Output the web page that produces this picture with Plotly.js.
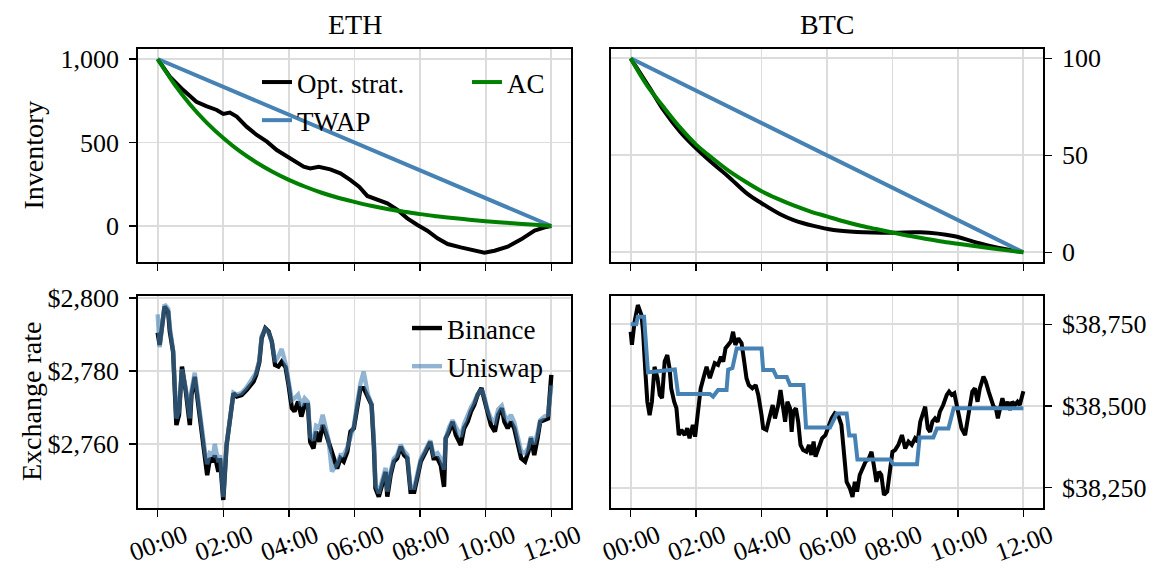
<!DOCTYPE html>
<html>
<head>
<meta charset="utf-8">
<script src="https://cdn.plot.ly/plotly-3.0.1.min.js"></script>
<style>html,body{margin:0;padding:0;background:#fff;}#chart{width:1159px;height:572px;}</style>
</head>
<body>
<div id="chart"></div>
<script>
// ---------- DATA ----------
const panelTitles = ['ETH', 'BTC'];
const hourTickVals = [0, 2, 4, 6, 8, 10, 12];
const hourTickLabels = ['00:00', '02:00', '04:00', '06:00', '08:00', '10:00', '12:00'];

// Inventory, ETH
const ethOptT = [0, 0.37, 0.78, 1.18, 1.48, 1.8, 2.0, 2.2, 2.41, 2.71, 3.02, 3.33, 3.63, 3.94, 4.25, 4.45, 4.65, 4.91, 5.26, 5.57, 5.88, 6.14, 6.39, 6.69, 7.0, 7.31, 7.61, 7.92, 8.22, 8.53, 8.84, 9.24, 9.65, 9.96, 10.27, 10.67, 11.08, 11.49, 11.8, 12.0];
const ethOptV = [1000, 894, 814, 744, 718, 695, 671, 679, 655, 595, 545, 505, 455, 415, 375, 355, 345, 355, 339, 315, 275, 235, 180, 156, 136, 96, 46, 6, -28, -74, -108, -128, -148, -160, -148, -124, -80, -28, -8, 0];
const ethTwapT = [0, 12];
const ethTwapV = [1000, 0];
const ethAcT = [0, 0.5, 1, 1.5, 2, 2.5, 3, 3.5, 4, 4.5, 5, 5.5, 6, 6.5, 7, 7.5, 8, 8.5, 9, 9.5, 10, 10.5, 11, 11.5, 12];
const ethAcV = [1000, 852, 725, 618, 527, 448, 382, 325, 276, 235, 199, 169, 144, 121, 102, 86, 71, 59, 48, 38, 29, 21, 14, 7, 0];

// Inventory, BTC
const btcOptT = [0, 0.59, 1.0, 1.51, 2.0, 2.53, 2.99, 3.55, 4.0, 4.57, 4.98, 5.59, 6.2, 6.91, 8.0, 8.84, 9.86, 10.47, 11.08, 12.0];
const btcOptV = [100, 84.5, 73.4, 62.2, 53.6, 45.5, 39, 30.4, 25.3, 19.6, 16.6, 13.6, 11.5, 10.5, 10.1, 10.3, 8.4, 5.5, 2.9, 0];
const btcTwapT = [0, 12];
const btcTwapV = [100, 0];
const btcAcT = [0, 0.5, 1, 1.5, 2, 2.5, 3, 3.5, 4, 4.5, 5, 5.5, 6, 6.5, 7, 7.5, 8, 8.5, 9, 9.5, 10, 10.5, 11, 11.5, 12];
const btcAcV = [100, 86, 75, 64.5, 55.5, 48.5, 42, 36.5, 31.5, 27.5, 24, 21, 18.5, 16, 13.8, 12, 10.2, 8.5, 7, 5.6, 4.4, 3.2, 2.1, 1, 0];

// Exchange rate, ETH
const ethRateT = [0, 0.06, 0.21, 0.32, 0.37, 0.47, 0.57, 0.65, 0.74, 0.86, 0.98, 1.03, 1.13, 1.23, 1.34, 1.44, 1.51, 1.59, 1.69, 1.74, 1.85, 1.9, 2.0, 2.1, 2.2, 2.31, 2.41, 2.56, 2.71, 2.82, 2.92, 3.0, 3.1, 3.17, 3.28, 3.38, 3.48, 3.58, 3.68, 3.78, 3.9, 3.99, 4.09, 4.17, 4.28, 4.38, 4.48, 4.58, 4.65, 4.75, 4.83, 4.93, 5.03, 5.11, 5.21, 5.31, 5.47, 5.57, 5.67, 5.78, 5.88, 5.98, 6.08, 6.18, 6.28, 6.41, 6.52, 6.59, 6.64, 6.74, 6.84, 6.95, 7.0, 7.1, 7.2, 7.3, 7.41, 7.51, 7.61, 7.71, 7.82, 7.92, 8.02, 8.17, 8.31, 8.41, 8.53, 8.63, 8.73, 8.78, 8.88, 8.99, 9.09, 9.24, 9.34, 9.45, 9.55, 9.65, 9.75, 9.87, 9.97, 10.05, 10.16, 10.28, 10.38, 10.49, 10.57, 10.67, 10.77, 10.87, 10.98, 11.08, 11.2, 11.3, 11.38, 11.48, 11.58, 11.66, 11.79, 11.9, 12.0];
const ethBinance = [2790.5, 2787.1, 2797.6, 2796.2, 2790.8, 2785.3, 2765.2, 2768.0, 2781.2, 2774.3, 2765.2, 2773.4, 2778.4, 2770.7, 2762.5, 2756.1, 2751.5, 2756.1, 2755.2, 2756.9, 2752.4, 2756.1, 2744.7, 2759.7, 2766.1, 2773.9, 2773.0, 2773.4, 2774.8, 2776.2, 2777.1, 2778.9, 2782.5, 2789.0, 2791.7, 2790.8, 2788.0, 2781.6, 2781.2, 2782.5, 2781.0, 2776.2, 2769.8, 2768.9, 2771.6, 2767.5, 2770.7, 2770.7, 2760.6, 2758.8, 2763.4, 2760.6, 2765.2, 2763.4, 2760.6, 2757.0, 2753.3, 2756.1, 2755.2, 2757.9, 2763.4, 2764.3, 2770.7, 2775.3, 2775.3, 2772.5, 2770.7, 2759.7, 2747.9, 2745.6, 2748.8, 2752.4, 2745.6, 2751.5, 2755.2, 2756.1, 2759.3, 2757.0, 2756.1, 2746.9, 2746.9, 2751.5, 2755.2, 2757.9, 2760.6, 2756.1, 2756.1, 2754.2, 2748.3, 2761.6, 2763.4, 2766.1, 2762.5, 2759.7, 2764.3, 2766.1, 2768.9, 2770.7, 2773.4, 2775.3, 2771.6, 2768.0, 2765.2, 2763.4, 2768.0, 2769.8, 2766.1, 2764.3, 2766.1, 2764.3, 2760.6, 2756.1, 2755.2, 2757.9, 2761.6, 2757.0, 2761.6, 2766.1, 2766.6, 2767.0, 2778.9];
const ethUniswap = [2795.5, 2786.5, 2798.2, 2797.0, 2792.0, 2785.5, 2767.0, 2769.0, 2780.5, 2775.0, 2767.0, 2774.5, 2779.5, 2772.0, 2763.5, 2758.0, 2754.5, 2757.5, 2757.0, 2760.0, 2755.0, 2757.0, 2745.5, 2760.0, 2766.5, 2774.0, 2773.5, 2774.0, 2775.5, 2777.0, 2778.0, 2779.5, 2783.0, 2789.5, 2791.5, 2790.5, 2788.0, 2782.5, 2784.0, 2786.0, 2782.0, 2777.5, 2772.0, 2772.5, 2773.5, 2770.5, 2772.5, 2771.5, 2762.0, 2761.0, 2765.0, 2764.5, 2768.0, 2765.0, 2761.0, 2752.5, 2754.5, 2757.0, 2757.0, 2759.0, 2762.0, 2765.0, 2771.0, 2776.5, 2779.8, 2773.5, 2771.0, 2761.0, 2749.0, 2746.5, 2750.0, 2753.5, 2747.0, 2752.5, 2756.0, 2757.0, 2759.8, 2758.0, 2757.0, 2748.0, 2748.0, 2752.5, 2756.0, 2758.5, 2761.0, 2757.0, 2757.5, 2756.0, 2753.0, 2761.5, 2764.5, 2766.5, 2764.5, 2762.0, 2765.5, 2768.0, 2770.0, 2771.5, 2773.5, 2775.0, 2772.5, 2769.5, 2767.0, 2766.0, 2769.5, 2770.5, 2768.0, 2766.5, 2768.0, 2766.0, 2762.0, 2758.0, 2757.5, 2759.0, 2762.0, 2760.0, 2763.0, 2766.5, 2767.5, 2768.0, 2776.0];

// Exchange rate, BTC
const btcBinanceT = [0, 0.04, 0.12, 0.22, 0.33, 0.38, 0.45, 0.51, 0.58, 0.65, 0.73, 0.82, 0.89, 0.96, 1.04, 1.12, 1.19, 1.24, 1.33, 1.4, 1.47, 1.55, 1.65, 1.73, 1.8, 1.9, 1.97, 2.06, 2.14, 2.25, 2.32, 2.42, 2.49, 2.57, 2.67, 2.76, 2.83, 2.9, 2.98, 3.06, 3.13, 3.2, 3.29, 3.39, 3.47, 3.54, 3.61, 3.72, 3.82, 3.9, 4.0, 4.05, 4.15, 4.26, 4.34, 4.41, 4.51, 4.58, 4.66, 4.72, 4.79, 4.87, 4.92, 4.97, 5.05, 5.12, 5.19, 5.27, 5.37, 5.45, 5.52, 5.59, 5.65, 5.75, 5.85, 5.95, 6.02, 6.14, 6.24, 6.34, 6.44, 6.51, 6.6, 6.7, 6.78, 6.85, 6.92, 7.0, 7.1, 7.18, 7.28, 7.36, 7.43, 7.51, 7.59, 7.66, 7.74, 7.84, 7.92, 8.0, 8.08, 8.18, 8.29, 8.39, 8.49, 8.59, 8.69, 8.77, 8.85, 8.92, 9.0, 9.08, 9.15, 9.22, 9.3, 9.38, 9.45, 9.55, 9.66, 9.73, 9.81, 9.89, 9.96, 10.03, 10.11, 10.22, 10.3, 10.37, 10.44, 10.52, 10.6, 10.67, 10.78, 10.85, 10.94, 11.02, 11.09, 11.16, 11.22, 11.29, 11.36, 11.44, 11.52, 11.59, 11.66, 11.74, 11.82, 11.89, 11.97, 12.0];
const btcBinance = [38727, 38687, 38758, 38809, 38778, 38727, 38605, 38513, 38472, 38513, 38620, 38585, 38534, 38524, 38636, 38656, 38615, 38554, 38513, 38493, 38411, 38427, 38411, 38432, 38401, 38442, 38406, 38493, 38554, 38595, 38620, 38585, 38610, 38631, 38626, 38651, 38636, 38677, 38687, 38697, 38727, 38687, 38707, 38692, 38636, 38585, 38564, 38554, 38564, 38534, 38472, 38432, 38427, 38472, 38503, 38462, 38503, 38549, 38503, 38452, 38513, 38493, 38421, 38483, 38493, 38452, 38381, 38365, 38360, 38381, 38350, 38391, 38345, 38370, 38401, 38411, 38432, 38462, 38478, 38472, 38442, 38360, 38268, 38248, 38222, 38268, 38238, 38289, 38309, 38330, 38340, 38360, 38319, 38268, 38299, 38289, 38228, 38238, 38299, 38360, 38365, 38381, 38411, 38370, 38391, 38381, 38401, 38391, 38452, 38472, 38498, 38432, 38421, 38452, 38462, 38452, 38483, 38503, 38534, 38544, 38534, 38539, 38503, 38472, 38432, 38411, 38452, 38503, 38544, 38554, 38513, 38554, 38590, 38575, 38544, 38513, 38498, 38493, 38462, 38493, 38524, 38493, 38513, 38488, 38513, 38503, 38513, 38503, 38539, 38545];
const btcUniswapT = [0, 0.17, 0.22, 0.41, 0.53, 1.35, 1.45, 2.42, 2.52, 2.67, 2.93, 2.98, 3.11, 3.24, 4.0, 4.05, 4.36, 4.46, 4.77, 4.87, 5.28, 5.36, 6.09, 6.3, 6.6, 6.68, 6.85, 6.93, 7.92, 8.03, 8.75, 8.83, 9.25, 9.36, 9.71, 9.87, 12.0];
const btcUniswap = [38750, 38750, 38773, 38773, 38603, 38612, 38537, 38537, 38529, 38549, 38549, 38611, 38616, 38676, 38676, 38610, 38610, 38589, 38589, 38564, 38564, 38434, 38434, 38477, 38477, 38410, 38410, 38336, 38336, 38322, 38322, 38404, 38404, 38431, 38431, 38493, 38493];

const ethRateTickVals = [2760, 2780, 2800];
const ethRateTickLabels = ['$2,760', '$2,780', '$2,800'];
const btcRateTickVals = [38250, 38500, 38750];
const btcRateTickLabels = ['$38,250', '$38,500', '$38,750'];
const ethInvTickVals = [0, 500, 1000];
const ethInvTickLabels = ['0', '500', '1,000'];
const btcInvTickVals = [0, 50, 100];
const btcInvTickLabels = ['0', '50', '100'];

// ---------- STYLE ----------
const FONT = '"Liberation Serif", "Times New Roman", serif';
const BLACK = '#000000', BLUE = '#4682b4', GREEN = '#008000', UNI = 'rgba(70,130,180,0.6)';
const W = 1159, H = 572;
const px2x = p => p / W;
const py2y = p => 1 - p / H;

const traces = [
  // ETH inventory
  {x: ethOptT, y: ethOptV, xaxis: 'x', yaxis: 'y', name: 'Opt. strat.', mode: 'lines', line: {color: BLACK, width: 4}, legend: 'legend'},
  {x: ethTwapT, y: ethTwapV, xaxis: 'x', yaxis: 'y', name: 'TWAP', mode: 'lines', line: {color: BLUE, width: 4}, legend: 'legend'},
  {x: ethAcT, y: ethAcV, xaxis: 'x', yaxis: 'y', name: 'AC', mode: 'lines', line: {color: GREEN, width: 4, shape: 'spline'}, legend: 'legend3'},
  // BTC inventory
  {x: btcOptT, y: btcOptV, xaxis: 'x2', yaxis: 'y2', name: 'Opt. strat.', mode: 'lines', line: {color: BLACK, width: 4, shape: 'spline'}, showlegend: false},
  {x: btcTwapT, y: btcTwapV, xaxis: 'x2', yaxis: 'y2', name: 'TWAP', mode: 'lines', line: {color: BLUE, width: 4}, showlegend: false},
  {x: btcAcT, y: btcAcV, xaxis: 'x2', yaxis: 'y2', name: 'AC', mode: 'lines', line: {color: GREEN, width: 4, shape: 'spline'}, showlegend: false},
  // ETH rates
  {x: ethRateT, y: ethBinance, xaxis: 'x3', yaxis: 'y3', name: 'Binance', mode: 'lines', line: {color: BLACK, width: 4.4}, legend: 'legend2'},
  {x: ethRateT, y: ethUniswap, xaxis: 'x3', yaxis: 'y3', name: 'Uniswap', mode: 'lines', line: {color: UNI, width: 4.4}, legend: 'legend2'},
  // BTC rates
  {x: btcBinanceT, y: btcBinance, xaxis: 'x4', yaxis: 'y4', name: 'Binance', mode: 'lines', line: {color: BLACK, width: 4}, showlegend: false},
  {x: btcUniswapT, y: btcUniswap, xaxis: 'x4', yaxis: 'y4', name: 'Uniswap', mode: 'lines', line: {color: BLUE, width: 4}, showlegend: false}
];

const tickFont = {family: FONT, size: 26, color: '#000'};
function xAx(domain, anchor, labels) {
  return {
    domain: domain, anchor: anchor, range: [-0.6, 12.6],
    tickmode: 'array', tickvals: hourTickVals, ticktext: hourTickLabels,
    showticklabels: labels, tickangle: -20, ticklabelshift: 27, ticklabelstandoff: -6,
    ticks: 'outside', ticklen: 7, tickwidth: 1.5, tickcolor: '#000',
    showline: true, linecolor: '#000', linewidth: 1.8, mirror: true,
    showgrid: true, gridcolor: '#dcdcdc', gridwidth: 1.8, zeroline: false,
    tickfont: tickFont, fixedrange: true
  };
}
function yAx(domain, anchor, range, vals, labels, side) {
  return {
    domain: domain, anchor: anchor, range: range, side: side,
    tickmode: 'array', tickvals: vals, ticktext: labels,
    ticks: 'outside', ticklen: 7, tickwidth: 1.5, tickcolor: '#000', ticklabelstandoff: 5,
    showline: true, linecolor: '#000', linewidth: 1.8, mirror: true,
    showgrid: true, gridcolor: '#dcdcdc', gridwidth: 1.8, zeroline: false,
    tickfont: tickFont, fixedrange: true
  };
}

const dxL = [px2x(138), px2x(571)], dxR = [px2x(611), px2x(1043)];
const dyT = [py2y(262), py2y(49)], dyB = [py2y(508), py2y(296)];

const legendBase = {bgcolor: 'rgba(0,0,0,0)', borderwidth: 0, font: {family: FONT, size: 27, color: '#000'},
  orientation: 'v', xanchor: 'left', yanchor: 'top', itemwidth: 30, tracegroupgap: 0, itemclick: false, itemdoubleclick: false};

const layout = {
  width: W, height: H,
  margin: {l: 0, r: 0, t: 0, b: 0},
  paper_bgcolor: '#fff', plot_bgcolor: '#fff',
  font: {family: FONT, size: 26, color: '#000'},
  xaxis: xAx(dxL, 'y', false),
  yaxis: yAx(dyT, 'x', [-215.6, 1060], ethInvTickVals, ethInvTickLabels, 'left'),
  xaxis2: xAx(dxR, 'y2', false),
  yaxis2: yAx(dyT, 'x2', [-5, 104.8], btcInvTickVals, btcInvTickLabels, 'right'),
  xaxis3: xAx(dxL, 'y3', true),
  yaxis3: yAx(dyB, 'x3', [2742.5, 2800.5], ethRateTickVals, ethRateTickLabels, 'left'),
  xaxis4: xAx(dxR, 'y4', true),
  yaxis4: yAx(dyB, 'x4', [38187.9, 38836.6], btcRateTickVals, btcRateTickLabels, 'right'),
  legend: Object.assign({}, legendBase, {x: px2x(257), y: py2y(58)}),
  legend3: Object.assign({}, legendBase, {x: px2x(467), y: py2y(58)}),
  legend2: Object.assign({}, legendBase, {x: px2x(407), y: py2y(304)}),
  annotations: [
    {text: panelTitles[0], xref: 'paper', yref: 'paper', x: (dxL[0] + dxL[1]) / 2, y: py2y(24), xanchor: 'center', yanchor: 'middle', showarrow: false, font: {family: FONT, size: 28}},
    {text: panelTitles[1], xref: 'paper', yref: 'paper', x: (dxR[0] + dxR[1]) / 2, y: py2y(24), xanchor: 'center', yanchor: 'middle', showarrow: false, font: {family: FONT, size: 28}},
    {text: 'Inventory', xref: 'paper', yref: 'paper', x: px2x(33), y: (dyT[0] + dyT[1]) / 2, xanchor: 'center', yanchor: 'middle', textangle: -90, showarrow: false, font: {family: FONT, size: 28}},
    {text: 'Exchange rate', xref: 'paper', yref: 'paper', x: px2x(31), y: (dyB[0] + dyB[1]) / 2, xanchor: 'center', yanchor: 'middle', textangle: -90, showarrow: false, font: {family: FONT, size: 28}}
  ]
};

Plotly.newPlot('chart', traces, layout, {displayModeBar: false, staticPlot: true});
</script>
</body>
</html>
